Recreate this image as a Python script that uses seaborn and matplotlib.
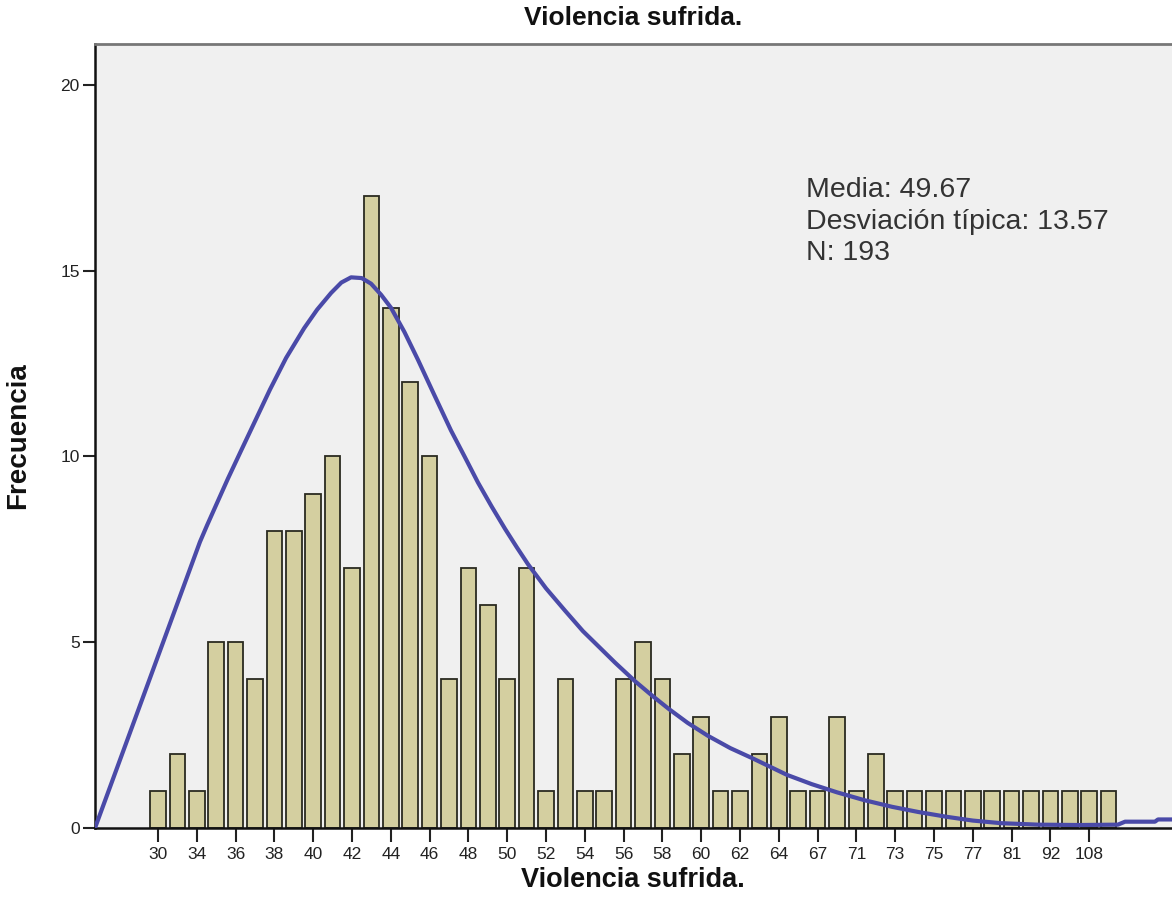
import numpy as np
import pandas as pd
import matplotlib
matplotlib.use("Agg")
import matplotlib.pyplot as plt
import seaborn as sns

# ---- data ----
categories = [30, 32, 34, 35, 36, 37, 38, 39, 40, 41, 42, 43, 44, 45, 46, 47, 48, 49,
              50, 51, 52, 53, 54, 55, 56, 57, 58, 59, 60, 61, 62, 63, 64, 66, 67, 69,
              71, 72, 73, 74, 75, 76, 77, 79, 81, 86, 92, 100, 108, 120]
frequencies = [1, 2, 1, 5, 5, 4, 8, 8, 9, 10, 7, 17, 14, 12, 10, 4, 7, 6,
               4, 7, 1, 4, 1, 1, 4, 5, 4, 2, 3, 1, 1, 2, 3, 1, 1, 3,
               1, 2, 1, 1, 1, 1, 1, 1, 1, 1, 1, 1, 1, 1]
tick_labels = [str(v) for v in categories[::2]]

# normal curve as drawn by the source chart (x in category-position units, y frequency)
curve_x = [-3.25, 2.16, 2.53, 3.0, 3.6, 4.23, 5.0, 5.77, 6.6, 7.53, 8.2, 8.92,
           9.45, 9.95, 10.5, 10.98, 11.5, 12.01, 12.7, 13.40, 14.2, 15.10, 15.8,
           16.49, 17.2, 17.89, 18.5, 19.07, 20.0, 20.98, 21.9, 22.78, 23.56, 24.59,
           25.5, 26.34, 27.3, 28.35, 29.5, 30.67, 32.42, 33.7, 35.00, 36.4, 37.84,
           39.2, 40.67, 42.0, 43.45, 45.36, 47.5, 49.48, 49.85, 51.39, 51.55, 52.27]
curve_y = [0.0, 7.7, 8.15, 8.7, 9.4, 10.1, 10.95, 11.8, 12.65, 13.45, 13.95, 14.4,
           14.68, 14.82, 14.8, 14.65, 14.35, 14.0, 13.35, 12.6, 11.7, 10.7, 10.0,
           9.3, 8.65, 8.05, 7.55, 7.1, 6.45, 5.85, 5.3, 4.85, 4.45, 3.95,
           3.55, 3.2, 2.83, 2.48, 2.15, 1.87, 1.43, 1.18, 0.96, 0.75, 0.57,
           0.43, 0.30, 0.2, 0.13, 0.09, 0.08, 0.09, 0.17, 0.17, 0.23, 0.23]

stats_text = "Media: 49.67\nDesviación típica: 13.57\nN: 193"
title = "Violencia sufrida."
xlabel = "Violencia sufrida."
ylabel = "Frecuencia"

# ---- drawing ----
sns.set_theme(style="white")
plt.rcParams['font.family'] = ['Liberation Sans', 'DejaVu Sans']

W, H = 1172, 918
fig = plt.figure(figsize=(W / 100, H / 100), dpi=100)
ax = fig.add_axes([95 / W, (H - 828) / H, (1172 - 95) / W, (828 - 44) / H])
ax.set_facecolor("#F0F0F0")

df = pd.DataFrame({"cat": [str(c) for c in categories], "freq": frequencies})
sns.barplot(data=df, x="cat", y="freq", order=df["cat"].tolist(), ax=ax,
            color="#D4CFA0", saturation=1, edgecolor="#2a2a20", linewidth=1.3,
            width=0.8)

sns.lineplot(x=curve_x, y=curve_y, ax=ax, sort=False, estimator=None,
             color="#4A4AA8", linewidth=3.0, zorder=5)

ax.set_xlim(-3.25, 52.27)
ax.set_ylim(0, 21.1)

ax.set_xticks(range(0, len(categories), 2))
ax.set_xticklabels(tick_labels)
ax.set_yticks([0, 5, 10, 15, 20])
ax.set_yticklabels(["0", "5", "10", "15", "20"])
ax.tick_params(axis="x", direction="out", length=10, width=1.5, color="#222222",
               labelsize=12.5, pad=4, labelcolor="#222222", bottom=True)
ax.tick_params(axis="y", direction="out", length=9, width=1.5, color="#222222",
               labelsize=12.5, pad=2, labelcolor="#222222", left=True)

for side in ["left", "bottom"]:
    ax.spines[side].set_color("#111111")
    ax.spines[side].set_linewidth(1.8)
ax.spines["top"].set_color("#777777")
ax.spines["top"].set_linewidth(2.0)
ax.spines["right"].set_visible(False)

ax.set_xlabel("")
ax.set_ylabel("")

ax.text(0.660, 0.830, stats_text, transform=ax.transAxes, ha="left", va="top",
        fontsize=20.5, color="#333333", linespacing=1.28)

fig.text(633 / W, 1 - 18 / H, title, ha="center", va="center",
         fontsize=19, fontweight="bold", color="#111111")
fig.text(633 / W, 1 - 880 / H, xlabel, ha="center", va="center",
         fontsize=19.5, fontweight="bold", color="#111111")
fig.text(18 / W, 1 - 436 / H, ylabel, ha="center", va="center", rotation=90,
         fontsize=20, fontweight="bold", color="#111111")

fig.savefig("out.png", dpi=100, facecolor="white")
